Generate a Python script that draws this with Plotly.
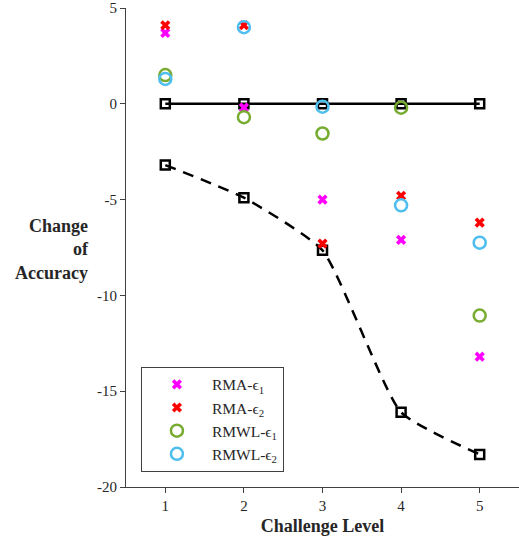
import plotly.graph_objects as go

levels = [1, 2, 3, 4, 5]
rma_e1 = [3.7, -0.2, -5.0, -7.1, -13.2]
rma_e2 = [4.1, 4.1, -7.3, -4.8, -6.2]
rmwl_e1 = [1.5, -0.7, -1.55, -0.2, -11.05]
rmwl_e2 = [1.3, 4.0, -0.15, -5.3, -7.25]
baseline = [0, 0, 0, 0, 0]
dashed = [-3.2, -4.9, -7.65, -16.1, -18.3]
y_ticks = [5, 0, -5, -10, -15, -20]
y_tick_text = ["5", "0", "-5", "-10", "-15", "-20"]

serif = "Liberation Serif, Times New Roman, serif"

fig = go.Figure()
fig.add_trace(go.Scatter(x=levels, y=baseline, mode="lines+markers", showlegend=False,
                         line=dict(color="black", width=2.5),
                         marker=dict(symbol="square-open", size=9, color="black", line=dict(width=2.5))))
fig.add_trace(go.Scatter(x=levels, y=dashed, mode="lines+markers", showlegend=False,
                         line=dict(color="black", width=2.5, dash="11px,8px", shape="spline", smoothing=0.5),
                         marker=dict(symbol="square-open", size=9, color="black", line=dict(width=2.5))))
fig.add_trace(go.Scatter(x=levels, y=rma_e1, mode="markers", name="RMA-ϵ<sub>1</sub>",
                         marker=dict(symbol="x", size=9, color="#FF00FF", line=dict(width=0))))
fig.add_trace(go.Scatter(x=levels, y=rma_e2, mode="markers", name="RMA-ϵ<sub>2</sub>",
                         marker=dict(symbol="x", size=9, color="#FF0000", line=dict(width=0))))
fig.add_trace(go.Scatter(x=levels, y=rmwl_e1, mode="markers", name="RMWL-ϵ<sub>1</sub>",
                         marker=dict(symbol="circle-open", size=12, color="#77AC30", line=dict(width=2.5))))
fig.add_trace(go.Scatter(x=levels, y=rmwl_e2, mode="markers", name="RMWL-ϵ<sub>2</sub>",
                         marker=dict(symbol="circle-open", size=12, color="#4DBEEE", line=dict(width=2.5))))

fig.update_layout(
    width=519, height=544,
    margin=dict(l=126, r=0, t=5, b=57),
    paper_bgcolor="white", plot_bgcolor="white",
    font=dict(family=serif, size=15, color="#262626"),
    xaxis=dict(range=[0.5, 5.5], tickvals=levels, ticks="outside", ticklen=5, tickcolor="#404040",
               showline=True, linecolor="#404040", linewidth=1, showgrid=False, zeroline=False,
               title=dict(text="<b>Challenge Level</b>", font=dict(size=18), standoff=6)),
    yaxis=dict(range=[-20, 5], tickvals=y_ticks, ticktext=y_tick_text, ticks="outside", ticklen=5,
               tickcolor="#404040", ticklabeloverflow="allow",
               showline=True, linecolor="#404040", linewidth=1, showgrid=False, zeroline=False),
    legend=dict(x=0.038, y=0.251, xanchor="left", yanchor="top", bgcolor="white",
                bordercolor="#404040", borderwidth=1, itemwidth=60, traceorder="normal",
                font=dict(size=15.5), tracegroupgap=0),
    annotations=[dict(text="<b>Change<br>of<br>Accuracy</b>", xref="paper", yref="paper",
                      x=-0.09, y=0.496, xanchor="right", yanchor="middle", align="right",
                      showarrow=False, font=dict(size=18))],
)
fig.write_html("out.html")
